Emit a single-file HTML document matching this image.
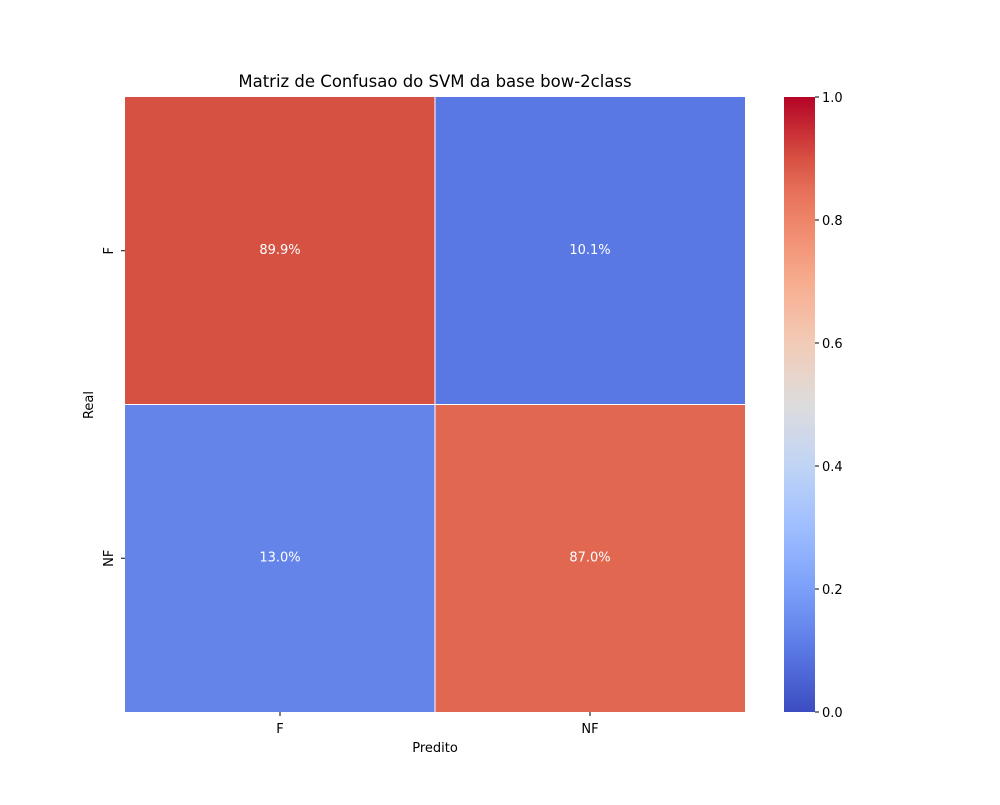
<!DOCTYPE html>
<html><head><meta charset="utf-8"><style>
body{margin:0;background:#fff;}
svg text{font-family:"DejaVu Sans","Liberation Sans",sans-serif;}
</style></head><body>
<svg id="chart" width="1000" height="800" xmlns="http://www.w3.org/2000/svg">
<defs>
<linearGradient id="cbgrad" x1="0" y1="1" x2="0" y2="0"></linearGradient>
</defs>
<rect width="1000" height="800" fill="#fff"/>
<text x="435" y="87" font-size="16.5" text-anchor="middle">Matriz de Confusao do SVM da base bow-2class</text>
<g id="cells"></g>
<g id="grid"></g>
<g id="labels"></g>
<g id="axes"></g>
<text x="435" y="752" font-size="13" text-anchor="middle">Predito</text>
<text x="93" y="405" font-size="13" text-anchor="middle" transform="rotate(-90 93 405)">Real</text>
<rect x="784" y="97" width="31" height="615" fill="url(#cbgrad)"/>
<g id="cbticks"></g>
</svg>
<script>
const rowLabels = ["F", "NF"];
const colLabels = ["F", "NF"];
const values = [[0.899, 0.101], [0.130, 0.870]];
const cbTicks = [0.0, 0.2, 0.4, 0.6, 0.8, 1.0];

const NS = "http://www.w3.org/2000/svg";
const L = 125, R = 745, T = 97, B = 712;
const stops = [[0,[59,76,192]],[0.1,[90,120,228]],[0.2,[123,159,249]],[0.3,[158,190,255]],[0.4,[192,212,245]],[0.5,[221,220,220]],[0.6,[242,203,183]],[0.7,[247,172,142]],[0.8,[238,132,104]],[0.87,[225,103,81]],[0.9,[215,80,66]],[1,[180,4,38]]];
function cmap(v){
  for(let i=1;i<stops.length;i++){
    if(v<=stops[i][0]){
      const a=stops[i-1],b=stops[i],t=(v-a[0])/(b[0]-a[0]);
      return "rgb("+a[1].map((c,k)=>Math.round(c+(b[1][k]-c)*t)).join(",")+")";
    }
  }
  return "rgb(180,4,38)";
}
const cw=(R-L)/colLabels.length, ch=(B-T)/rowLabels.length;
function xs(j){return L+j*cw;}
function ys(i){return T+i*ch;}
function cy(v){return B-v*(B-T);}
const cells=document.getElementById("cells"), axes=document.getElementById("axes");
const grid=document.getElementById("grid"), labels=document.getElementById("labels");
function mk(tag,attrs,parent){const e=document.createElementNS(NS,tag);for(const k in attrs)e.setAttribute(k,attrs[k]);parent.appendChild(e);return e;}
values.forEach((row,i)=>row.forEach((v,j)=>{
  const r=mk("rect",{x:xs(j),y:ys(i),width:cw,height:ch,fill:cmap(v)},cells);
  
  
  const t=mk("text",{x:xs(j)+cw/2,y:ys(i)+ch/2+3,"font-size":13,"text-anchor":"middle",fill:"#fff"},labels);
  t.textContent=(v*100).toFixed(1)+"%";
  
  
}));
for(let j=1;j<colLabels.length;j++){
  const l=mk("line",{x1:xs(j),x2:xs(j),y1:T,y2:B,stroke:"#fff","stroke-width":1},grid);
  
  
}
for(let i=1;i<rowLabels.length;i++){
  const l=mk("line",{x1:L,x2:R,y1:ys(i),y2:ys(i),stroke:"#fff","stroke-width":1},grid);
  
  
}
colLabels.forEach((lab,j)=>{
  const x=xs(j)+cw/2;
  const tk=mk("line",{x1:x,x2:x,y1:B,y2:B+4,stroke:"#000"},axes);
  
  
  const t=mk("text",{x:x,y:B+21,"font-size":13,"text-anchor":"middle"},axes);
  t.textContent=lab;
  
  
});
rowLabels.forEach((lab,i)=>{
  const y=ys(i)+ch/2;
  const tk=mk("line",{x1:L-4,x2:L,y1:y,y2:y,stroke:"#000"},axes);
  
  
  const t=mk("text",{x:113,y:y,"font-size":13,"text-anchor":"middle",transform:"rotate(-90 113 "+y+")"},axes);
  t.textContent=lab;
  
  
});
const g=document.getElementById("cbgrad");
for(let k=0;k<=20;k++){const v=k/20;mk("stop",{offset:v,"stop-color":cmap(v)},g);}
const cbt=document.getElementById("cbticks");
cbTicks.forEach(v=>{
  const y=cy(v);
  const l=mk("line",{x1:815,x2:819,y1:y,y2:y,stroke:"#000"},cbt);
  
  
  const t=mk("text",{x:822,y:y+5,"font-size":13},cbt);
  t.textContent=v.toFixed(1);
  
  
});
</script>
</body></html>
